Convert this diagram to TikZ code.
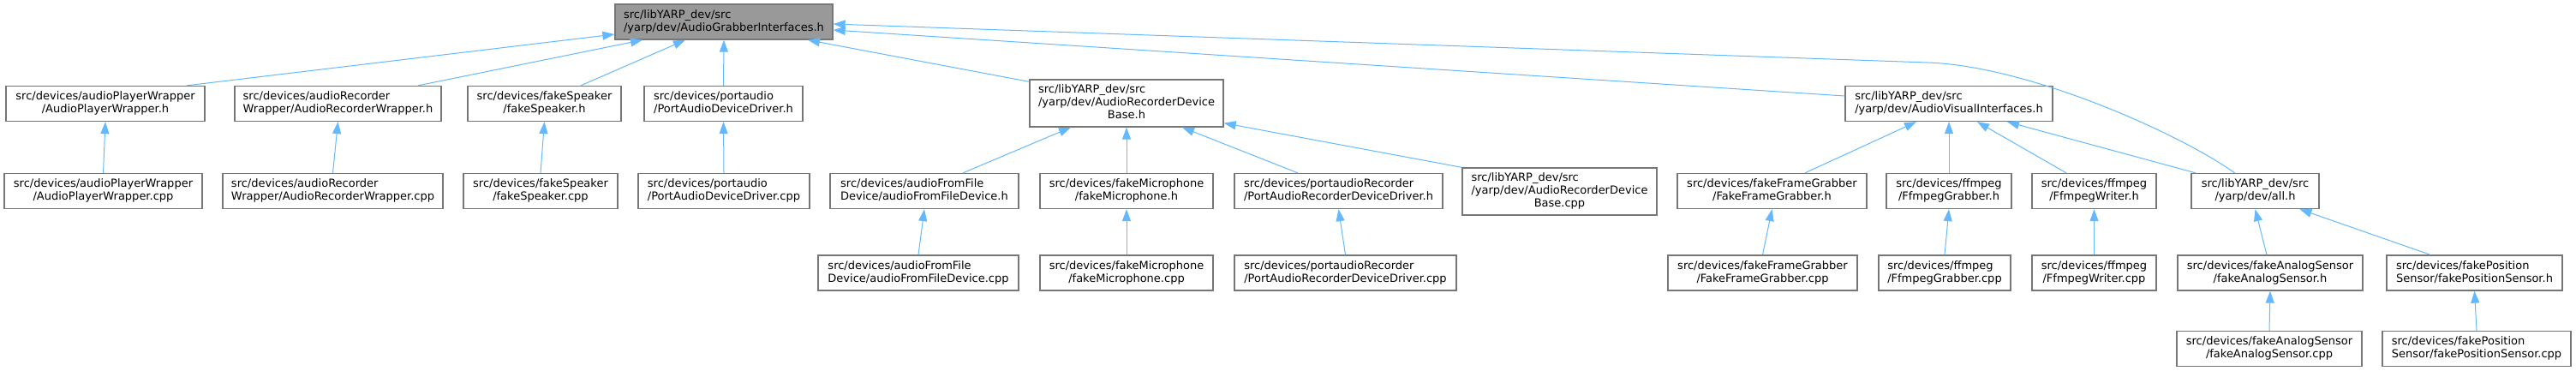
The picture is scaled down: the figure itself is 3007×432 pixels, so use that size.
\documentclass[tikz,border=0pt]{standalone}
\usepackage{fontspec}
\setmainfont{DejaVu Sans}
\usetikzlibrary{arrows.meta, calc}
\definecolor{cEdge}{RGB}{99,184,255}
\definecolor{cFrame}{RGB}{118,118,118}
\definecolor{cRoot}{RGB}{153,153,153}
% file labels: every line left, the last one centred
\newcommand{\twoline}[2]{\begin{tabular}{@{}l@{}}#1\\\multicolumn{1}{@{}c@{}}{#2}\end{tabular}}
\newcommand{\threeline}[3]{\begin{tabular}{@{}l@{}}#1\\#2\\\multicolumn{1}{@{}c@{}}{#3}\end{tabular}}
\tikzset{
	file/.style     ={rectangle, draw=cFrame, line width=1.3pt, fill=white, minimum height=41pt, inner sep=2pt, align=center, font=\fontsize{13}{15}\selectfont},
	rootfile/.style ={file, fill=cRoot},
	tallfile/.style ={file, minimum height=55pt},
	incl/.style     ={-{Triangle[length=14pt, width=10pt]}, draw=cEdge, line width=1pt},
}

\begin{document}
\begin{tikzpicture}[x=1pt, y=-1pt]
	\useasboundingbox (0,0) rectangle (3007,432);
	% level 0
	\node[rootfile, minimum width=254pt] (root) at (845,25.5) {\twoline{src/libYARP\_dev/src}{/yarp/dev/AudioGrabberInterfaces.h}};
	% level 1
	\node[file, minimum width=232pt] (apwh) at (123,121) {\twoline{src/devices/audioPlayerWrapper}{/AudioPlayerWrapper.h}};
	\node[file, minimum width=241pt] (arwh) at (394.5,121) {\twoline{src/devices/audioRecorder}{Wrapper/AudioRecorderWrapper.h}};
	\node[file, minimum width=179pt] (fsh) at (635.5,121) {\twoline{src/devices/fakeSpeaker}{/fakeSpeaker.h}};
	\node[file, minimum width=185pt] (padh) at (844.5,121) {\twoline{src/devices/portaudio}{/PortAudioDeviceDriver.h}};
	\node[tallfile, minimum width=226pt] (rdbh) at (1315,120.5) {\threeline{src/libYARP\_dev/src}{/yarp/dev/AudioRecorderDevice}{Base.h}};
	\node[file, minimum width=242pt] (avih) at (2275,121) {\twoline{src/libYARP\_dev/src}{/yarp/dev/AudioVisualInterfaces.h}};
	% level 2
	\node[file, minimum width=231pt] (apwc) at (120.5,223) {\twoline{src/devices/audioPlayerWrapper}{/AudioPlayerWrapper.cpp}};
	\node[file, minimum width=257pt] (arwc) at (388.5,223) {\twoline{src/devices/audioRecorder}{Wrapper/AudioRecorderWrapper.cpp}};
	\node[file, minimum width=180pt] (fsc) at (631,223) {\twoline{src/devices/fakeSpeaker}{/fakeSpeaker.cpp}};
	\node[file, minimum width=200pt] (padc) at (845,223) {\twoline{src/devices/portaudio}{/PortAudioDeviceDriver.cpp}};
	\node[file, minimum width=220pt] (affh) at (1079,223) {\twoline{src/devices/audioFromFile}{Device/audioFromFileDevice.h}};
	\node[file, minimum width=202pt] (fmh) at (1315,223) {\twoline{src/devices/fakeMicrophone}{/fakeMicrophone.h}};
	\node[file, minimum width=243pt] (pardh) at (1562.5,223) {\twoline{src/devices/portaudioRecorder}{/PortAudioRecorderDeviceDriver.h}};
	\node[tallfile, minimum width=227pt] (rdbc) at (1820.5,223.5) {\threeline{src/libYARP\_dev/src}{/yarp/dev/AudioRecorderDevice}{Base.cpp}};
	\node[file, minimum width=221pt] (ffgh) at (2068.5,223) {\twoline{src/devices/fakeFrameGrabber}{/FakeFrameGrabber.h}};
	\node[file, minimum width=146pt] (fgh) at (2275,223) {\twoline{src/devices/ffmpeg}{/FfmpegGrabber.h}};
	\node[file, minimum width=145pt] (fwh) at (2444.5,223) {\twoline{src/devices/ffmpeg}{/FfmpegWriter.h}};
	\node[file, minimum width=149pt] (allh) at (2632.5,223) {\twoline{src/libYARP\_dev/src}{/yarp/dev/all.h}};
	% level 3
	\node[file, minimum width=234pt] (affc) at (1072,318.5) {\twoline{src/devices/audioFromFile}{Device/audioFromFileDevice.cpp}};
	\node[file, minimum width=202pt] (fmc) at (1315,318.5) {\twoline{src/devices/fakeMicrophone}{/fakeMicrophone.cpp}};
	\node[file, minimum width=259pt] (pardc) at (1570.5,318.5) {\twoline{src/devices/portaudioRecorder}{/PortAudioRecorderDeviceDriver.cpp}};
	\node[file, minimum width=221pt] (ffgc) at (2057.5,318.5) {\twoline{src/devices/fakeFrameGrabber}{/FakeFrameGrabber.cpp}};
	\node[file, minimum width=154pt] (fgc) at (2270,318.5) {\twoline{src/devices/ffmpeg}{/FfmpegGrabber.cpp}};
	\node[file, minimum width=145pt] (fwc) at (2444.5,318.5) {\twoline{src/devices/ffmpeg}{/FfmpegWriter.cpp}};
	\node[file, minimum width=216pt] (fash) at (2650,318.5) {\twoline{src/devices/fakeAnalogSensor}{/fakeAnalogSensor.h}};
	\node[file, minimum width=205pt] (fpsh) at (2888.5,318.5) {\twoline{src/devices/fakePosition}{Sensor/fakePositionSensor.h}};
	% level 4
	\node[file, minimum width=216pt] (fasc) at (2649,407) {\twoline{src/devices/fakeAnalogSensor}{/fakeAnalogSensor.cpp}};
	\node[file, minimum width=220pt] (fpsc) at (2891,407) {\twoline{src/devices/fakePosition}{Sensor/fakePositionSensor.cpp}};

	% includes of the root header
	\draw[incl] ($(apwh.north)+(95,0)$) -- ($(root.west)+(0,14.5)$);
	\draw[incl] ($(arwh.north)+(93.5,0)$) -- ($(root.south)+(-95,0)$);
	\draw[incl] ($(fsh.north)+(42.5,0)$) -- ($(root.south)+(-45,0)$);
	\draw[incl] (padh.north) -- (root.south);
	\draw[incl] ($(rdbh.north west)+(0,3)$) -- ($(root.south)+(98,0)$);
	\draw[incl] ($(avih.west)+(0,-9)$) -- ($(root.east)+(0,9.5)$);
	\draw[incl] ($(allh.north)+(-24,0)$) .. controls (2548,158) and (2370,77) .. (2250,73) -- ($(root.east)+(0,2.5)$);
	% AudioRecorderDeviceBase.h
	\draw[incl] ($(affh.north)+(45,0)$) -- ($(rdbh.south)+(-65,0)$);
	\draw[incl] (fmh.north) -- (rdbh.south);
	\draw[incl] ($(pardh.north)+(-47.5,0)$) -- ($(rdbh.south)+(65,0)$);
	\draw[incl] (rdbc.north west) -- ($(rdbh.south east)+(0,-5)$);
	% AudioVisualInterfaces.h
	\draw[incl] ($(ffgh.north)+(38.5,0)$) -- ($(avih.south)+(-38,0)$);
	\draw[incl] (fgh.north) -- (avih.south);
	\draw[incl] ($(fwh.north)+(-32.5,0)$) -- ($(avih.south)+(33,0)$);
	\draw[incl] ($(allh.north)+(-69.5,0)$) -- ($(avih.south)+(68,0)$);
	% all.h
	\draw[incl] ($(fash.north)+(-4,0)$) -- (allh.south);
	\draw[incl] ($(fpsh.north)+(-51.5,0)$) -- ($(allh.south)+(52,0)$);
	% sources under their headers
	\draw[incl] (apwc.north) -- (apwh.south);
	\draw[incl] (arwc.north) -- (arwh.south);
	\draw[incl] (fsc.north) -- (fsh.south);
	\draw[incl] (padc.north) -- (padh.south);
	\draw[incl] (affc.north) -- (affh.south);
	\draw[incl] (fmc.north) -- (fmh.south);
	\draw[incl] (pardc.north) -- (pardh.south);
	\draw[incl] (ffgc.north) -- (ffgh.south);
	\draw[incl] (fgc.north) -- (fgh.south);
	\draw[incl] (fwc.north) -- (fwh.south);
	\draw[incl] (fasc.north) -- (fash.south);
	\draw[incl] (fpsc.north) -- (fpsh.south);
\end{tikzpicture}
\end{document}
